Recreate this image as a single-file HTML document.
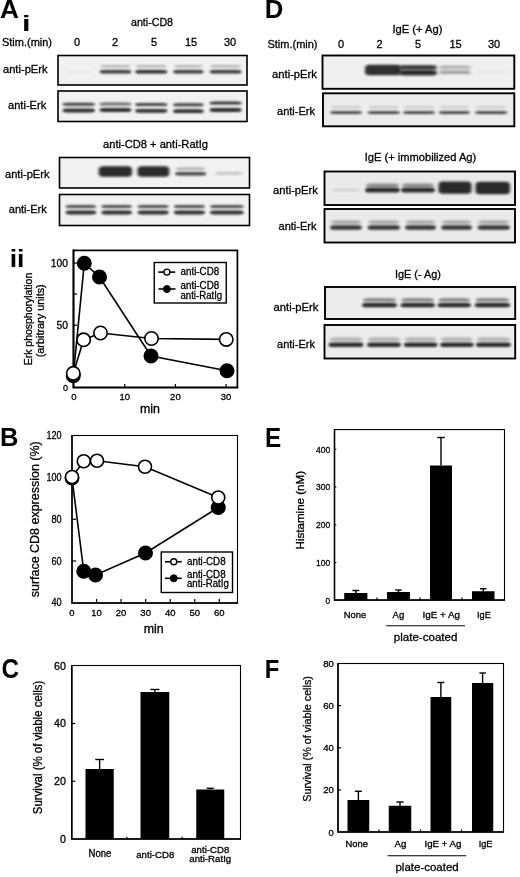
<!DOCTYPE html>
<html><head><meta charset="utf-8"><title>Figure</title>
<style>html,body{margin:0;padding:0;background:#fff;}body{width:520px;height:877px;overflow:hidden;}svg{display:block;will-change:transform;font-family:"Liberation Sans",sans-serif;fill:#000;}</style>
</head><body>
<svg width="520" height="877" viewBox="0 0 520 877">
<defs>
<filter id="b1" x="-10%" y="-100%" width="120%" height="300%"><feGaussianBlur stdDeviation="1.1 0.9"/></filter>
<filter id="b2" x="-10%" y="-100%" width="120%" height="300%"><feGaussianBlur stdDeviation="1.4 1.3"/></filter>
<filter id="b0" x="-10%" y="-100%" width="120%" height="300%"><feGaussianBlur stdDeviation="0.8 0.6"/></filter>
</defs>
<rect x="0" y="0" width="520" height="877" fill="#fff"/>
<text transform="matrix(1.3106 0 0 1.2794 -0.086 18.256)" x="0" y="0" font-size="20" font-weight="bold">A</text>
<text transform="matrix(1.5357 0 0 1.1370 21.950 30.600)" x="0" y="0" font-size="20" font-weight="bold">i</text>
<text transform="matrix(1.3293 0 0 1.2192 9.739 266.800)" x="0" y="0" font-size="20" font-weight="bold">ii</text>
<text transform="matrix(1.2787 0 0 1.2754 -0.090 446.300)" x="0" y="0" font-size="20" font-weight="bold">B</text>
<text transform="matrix(1.2154 0 0 1.3521 1.528 678.230)" x="0" y="0" font-size="20" font-weight="bold">C</text>
<text transform="matrix(1.2869 0 0 1.2826 264.698 18.200)" x="0" y="0" font-size="20" font-weight="bold">D</text>
<text transform="matrix(1.2143 0 0 1.3406 265.100 447.000)" x="0" y="0" font-size="20" font-weight="bold">E</text>
<text transform="matrix(1.1900 0 0 1.3116 264.634 677.600)" x="0" y="0" font-size="20" font-weight="bold">F</text>
<text x="152" y="26" font-size="11" text-anchor="middle" textLength="42" lengthAdjust="spacingAndGlyphs" stroke="#000" stroke-width="0.3">anti-CD8</text>
<text x="2" y="46" font-size="11" textLength="50" lengthAdjust="spacingAndGlyphs" stroke="#000" stroke-width="0.3">Stim.(min)</text>
<text x="77" y="46" font-size="11" text-anchor="middle" stroke="#000" stroke-width="0.3">0</text>
<text x="115" y="46" font-size="11" text-anchor="middle" stroke="#000" stroke-width="0.3">2</text>
<text x="154" y="46" font-size="11" text-anchor="middle" stroke="#000" stroke-width="0.3">5</text>
<text x="191" y="46" font-size="11" text-anchor="middle" stroke="#000" stroke-width="0.3">15</text>
<text x="230" y="46" font-size="11" text-anchor="middle" stroke="#000" stroke-width="0.3">30</text>
<text x="3" y="73" font-size="11" textLength="44.5" lengthAdjust="spacingAndGlyphs" stroke="#000" stroke-width="0.3">anti-pErk</text>
<text x="8" y="108.6" font-size="11" textLength="38.25" lengthAdjust="spacingAndGlyphs" stroke="#000" stroke-width="0.3">anti-Erk</text>
<text x="155.5" y="147.5" font-size="11" text-anchor="middle" textLength="105" lengthAdjust="spacingAndGlyphs" stroke="#000" stroke-width="0.3">anti-CD8 + anti-RatIg</text>
<text x="5" y="178" font-size="11" textLength="44.5" lengthAdjust="spacingAndGlyphs" stroke="#000" stroke-width="0.3">anti-pErk</text>
<text x="8.75" y="213" font-size="11" textLength="38" lengthAdjust="spacingAndGlyphs" stroke="#000" stroke-width="0.3">anti-Erk</text>
<clipPath id="c1"><rect x="58" y="55.5" width="189" height="29.5"/></clipPath>
<rect x="58" y="55.5" width="189" height="29.5" fill="#f1f1f1"/>
<g clip-path="url(#c1)">
<rect x="66" y="70.5" width="26" height="3" rx="5" ry="1.5" fill="#151515" opacity="0.03" filter="url(#b2)"/>
<rect x="99.5" y="69.9" width="32.0" height="3.6" rx="5" ry="1.8" fill="#151515" opacity="0.85" filter="url(#b1)"/>
<rect x="100.5" y="65.0" width="30.0" height="2.6" rx="5" ry="1.3" fill="#151515" opacity="0.28" filter="url(#b1)"/>
<rect x="135" y="69.9" width="32.5" height="3.6" rx="5" ry="1.8" fill="#151515" opacity="0.9" filter="url(#b1)"/>
<rect x="136" y="65.0" width="30.5" height="2.6" rx="5" ry="1.3" fill="#151515" opacity="0.28" filter="url(#b1)"/>
<rect x="173" y="69.9" width="30.75" height="3.6" rx="5" ry="1.8" fill="#151515" opacity="0.85" filter="url(#b1)"/>
<rect x="174" y="65.0" width="28.75" height="2.6" rx="5" ry="1.3" fill="#151515" opacity="0.28" filter="url(#b1)"/>
<rect x="209.5" y="69.9" width="32.25" height="3.6" rx="5" ry="1.8" fill="#151515" opacity="0.85" filter="url(#b1)"/>
<rect x="210.5" y="65.0" width="30.25" height="2.6" rx="5" ry="1.3" fill="#151515" opacity="0.28" filter="url(#b1)"/>
</g>
<rect x="58" y="55.5" width="189" height="29.5" fill="none" stroke="#000" stroke-width="1.6"/>
<clipPath id="c2"><rect x="58" y="91" width="189" height="30.5"/></clipPath>
<rect x="58" y="91" width="189" height="30.5" fill="#f1f1f1"/>
<g clip-path="url(#c2)">
<rect x="62.5" y="102.8" width="32.5" height="3.0" rx="5" ry="1.5" fill="#151515" opacity="0.8" filter="url(#b1)"/>
<rect x="62.5" y="108.6" width="32.5" height="3.8" rx="5" ry="1.9" fill="#151515" opacity="0.9" filter="url(#b1)"/>
<rect x="99.5" y="102.5" width="32.0" height="3.0" rx="5" ry="1.5" fill="#151515" opacity="0.6" filter="url(#b1)"/>
<rect x="99.5" y="108.1" width="32.0" height="3.8" rx="5" ry="1.9" fill="#151515" opacity="0.9" filter="url(#b1)"/>
<rect x="135" y="103.0" width="32.5" height="3.0" rx="5" ry="1.5" fill="#151515" opacity="0.8" filter="url(#b1)"/>
<rect x="135" y="108.89999999999999" width="32.5" height="3.8" rx="5" ry="1.9" fill="#151515" opacity="0.9" filter="url(#b1)"/>
<rect x="173" y="103.3" width="30.75" height="3.0" rx="5" ry="1.5" fill="#151515" opacity="0.8" filter="url(#b1)"/>
<rect x="173" y="109.3" width="30.75" height="3.8" rx="5" ry="1.9" fill="#151515" opacity="0.9" filter="url(#b1)"/>
<rect x="209.5" y="101.5" width="32.25" height="3.0" rx="5" ry="1.5" fill="#151515" opacity="0.85" filter="url(#b1)"/>
<rect x="209.5" y="108.1" width="32.25" height="3.8" rx="5" ry="1.9" fill="#151515" opacity="0.9" filter="url(#b1)"/>
</g>
<rect x="58" y="91" width="189" height="30.5" fill="none" stroke="#000" stroke-width="1.6"/>
<clipPath id="c3"><rect x="59.5" y="157.5" width="190.0" height="30.5"/></clipPath>
<rect x="59.5" y="157.5" width="190.0" height="30.5" fill="#f1f1f1"/>
<g clip-path="url(#c3)">
<rect x="98.75" y="166.25" width="33.25" height="10.5" rx="4" ry="3.5" fill="#151515" opacity="0.9" filter="url(#b2)"/>
<rect x="137.5" y="166.25" width="31.75" height="10.5" rx="4" ry="3.5" fill="#151515" opacity="0.9" filter="url(#b2)"/>
<rect x="175" y="172.0" width="31.25" height="3.4" rx="5" ry="1.7" fill="#151515" opacity="0.8" filter="url(#b1)"/>
<rect x="176" y="167.39999999999998" width="29.25" height="2.6" rx="5" ry="1.3" fill="#151515" opacity="0.3" filter="url(#b1)"/>
<rect x="215" y="172.20000000000002" width="28" height="2.2" rx="5" ry="1.1" fill="#151515" opacity="0.25" filter="url(#b1)"/>
</g>
<rect x="59.5" y="157.5" width="190.0" height="30.5" fill="none" stroke="#000" stroke-width="1.6"/>
<clipPath id="c4"><rect x="59.5" y="194.5" width="190.0" height="31.0"/></clipPath>
<rect x="59.5" y="194.5" width="190.0" height="31.0" fill="#f1f1f1"/>
<g clip-path="url(#c4)">
<rect x="65.5" y="205.1" width="30.75" height="3.0" rx="5" ry="1.5" fill="#151515" opacity="0.75" filter="url(#b1)"/>
<rect x="65.5" y="210.6" width="30.75" height="3.8" rx="5" ry="1.9" fill="#151515" opacity="0.9" filter="url(#b1)"/>
<rect x="101.25" y="205.1" width="30.75" height="3.0" rx="5" ry="1.5" fill="#151515" opacity="0.75" filter="url(#b1)"/>
<rect x="101.25" y="210.6" width="30.75" height="3.8" rx="5" ry="1.9" fill="#151515" opacity="0.9" filter="url(#b1)"/>
<rect x="137.5" y="205.1" width="31.25" height="3.0" rx="5" ry="1.5" fill="#151515" opacity="0.75" filter="url(#b1)"/>
<rect x="137.5" y="210.6" width="31.25" height="3.8" rx="5" ry="1.9" fill="#151515" opacity="0.9" filter="url(#b1)"/>
<rect x="173.75" y="205.1" width="31.25" height="3.0" rx="5" ry="1.5" fill="#151515" opacity="0.75" filter="url(#b1)"/>
<rect x="173.75" y="210.6" width="31.25" height="3.8" rx="5" ry="1.9" fill="#151515" opacity="0.9" filter="url(#b1)"/>
<rect x="210" y="205.1" width="33.75" height="3.0" rx="5" ry="1.5" fill="#151515" opacity="0.75" filter="url(#b1)"/>
<rect x="210" y="210.6" width="33.75" height="3.8" rx="5" ry="1.9" fill="#151515" opacity="0.9" filter="url(#b1)"/>
</g>
<rect x="59.5" y="194.5" width="190.0" height="31.0" fill="none" stroke="#000" stroke-width="1.6"/>
<text x="417.5" y="32.5" font-size="11" text-anchor="middle" textLength="50" lengthAdjust="spacingAndGlyphs" stroke="#000" stroke-width="0.3">IgE (+ Ag)</text>
<text x="267.5" y="48" font-size="11" textLength="50" lengthAdjust="spacingAndGlyphs" stroke="#000" stroke-width="0.3">Stim.(min)</text>
<text x="341" y="48" font-size="11" text-anchor="middle" stroke="#000" stroke-width="0.3">0</text>
<text x="379.5" y="48" font-size="11" text-anchor="middle" stroke="#000" stroke-width="0.3">2</text>
<text x="418" y="48" font-size="11" text-anchor="middle" stroke="#000" stroke-width="0.3">5</text>
<text x="455.5" y="48" font-size="11" text-anchor="middle" stroke="#000" stroke-width="0.3">15</text>
<text x="494" y="48" font-size="11" text-anchor="middle" stroke="#000" stroke-width="0.3">30</text>
<text x="272" y="78" font-size="11" textLength="45" lengthAdjust="spacingAndGlyphs" stroke="#000" stroke-width="0.3">anti-pErk</text>
<text x="277" y="114.5" font-size="11" textLength="38" lengthAdjust="spacingAndGlyphs" stroke="#000" stroke-width="0.3">anti-Erk</text>
<text x="420.5" y="161" font-size="11" text-anchor="middle" textLength="111.5" lengthAdjust="spacingAndGlyphs" stroke="#000" stroke-width="0.3">IgE (+ immobilized Ag)</text>
<text x="273" y="193.5" font-size="11" textLength="45" lengthAdjust="spacingAndGlyphs" stroke="#000" stroke-width="0.3">anti-pErk</text>
<text x="278.5" y="230" font-size="11" textLength="38" lengthAdjust="spacingAndGlyphs" stroke="#000" stroke-width="0.3">anti-Erk</text>
<text x="418" y="277.5" font-size="11" text-anchor="middle" textLength="46" lengthAdjust="spacingAndGlyphs" stroke="#000" stroke-width="0.3">IgE (- Ag)</text>
<text x="273.5" y="310.5" font-size="11" textLength="45" lengthAdjust="spacingAndGlyphs" stroke="#000" stroke-width="0.3">anti-pErk</text>
<text x="277" y="347.5" font-size="11" textLength="38" lengthAdjust="spacingAndGlyphs" stroke="#000" stroke-width="0.3">anti-Erk</text>
<clipPath id="c5"><rect x="322.5" y="55.5" width="191.79999999999995" height="33.3"/></clipPath>
<rect x="322.5" y="55.5" width="191.79999999999995" height="33.3" fill="#efefef"/>
<g clip-path="url(#c5)">
<rect x="365" y="64.75" width="36" height="10.5" rx="4" ry="3.5" fill="#151515" opacity="0.88" filter="url(#b2)"/>
<rect x="399" y="64.9" width="38" height="5" rx="5" ry="2.5" fill="#151515" opacity="0.8" filter="url(#b2)"/>
<rect x="399" y="70.1" width="38" height="5.4" rx="5" ry="2.7" fill="#151515" opacity="0.9" filter="url(#b2)"/>
<rect x="439" y="65.4" width="32" height="3.2" rx="5" ry="1.6" fill="#151515" opacity="0.2" filter="url(#b2)"/>
<rect x="439" y="65.8" width="31" height="8" rx="4" ry="3.5" fill="#151515" opacity="0.1" filter="url(#b2)"/>
<rect x="439" y="70.9" width="32" height="3.2" rx="5" ry="1.6" fill="#151515" opacity="0.3" filter="url(#b2)"/>
<rect x="476" y="70.75" width="31" height="2.5" rx="5" ry="1.25" fill="#151515" opacity="0.03" filter="url(#b2)"/>
</g>
<rect x="322.5" y="55.5" width="191.79999999999995" height="33.3" fill="none" stroke="#000" stroke-width="1.9"/>
<clipPath id="c6"><rect x="323" y="93.3" width="191.29999999999995" height="33.0"/></clipPath>
<rect x="323" y="93.3" width="191.29999999999995" height="33.0" fill="#ececec"/>
<g clip-path="url(#c6)">
<rect x="330" y="111.14999999999999" width="32" height="2.9" rx="5" ry="1.45" fill="#151515" opacity="0.8" filter="url(#b1)"/>
<rect x="331" y="106.0" width="30" height="2.6" rx="5" ry="1.3" fill="#151515" opacity="0.14" filter="url(#b1)"/>
<rect x="367.5" y="111.14999999999999" width="32.5" height="2.9" rx="5" ry="1.45" fill="#151515" opacity="0.8" filter="url(#b1)"/>
<rect x="368.5" y="106.0" width="30.5" height="2.6" rx="5" ry="1.3" fill="#151515" opacity="0.14" filter="url(#b1)"/>
<rect x="403" y="111.14999999999999" width="32" height="2.9" rx="5" ry="1.45" fill="#151515" opacity="0.8" filter="url(#b1)"/>
<rect x="404" y="106.0" width="30" height="2.6" rx="5" ry="1.3" fill="#151515" opacity="0.14" filter="url(#b1)"/>
<rect x="438.75" y="111.14999999999999" width="31.25" height="2.9" rx="5" ry="1.45" fill="#151515" opacity="0.8" filter="url(#b1)"/>
<rect x="439.75" y="106.0" width="29.25" height="2.6" rx="5" ry="1.3" fill="#151515" opacity="0.14" filter="url(#b1)"/>
<rect x="475" y="111.14999999999999" width="32.5" height="2.9" rx="5" ry="1.45" fill="#151515" opacity="0.8" filter="url(#b1)"/>
<rect x="476" y="106.0" width="30.5" height="2.6" rx="5" ry="1.3" fill="#151515" opacity="0.14" filter="url(#b1)"/>
</g>
<rect x="323" y="93.3" width="191.29999999999995" height="33.0" fill="none" stroke="#000" stroke-width="1.9"/>
<clipPath id="c7"><rect x="324.5" y="171.5" width="190.5" height="33.5"/></clipPath>
<rect x="324.5" y="171.5" width="190.5" height="33.5" fill="#eaeaea"/>
<g clip-path="url(#c7)">
<rect x="332" y="188.75" width="28" height="2.5" rx="5" ry="1.25" fill="#151515" opacity="0.12" filter="url(#b2)"/>
<rect x="365" y="187.4" width="35" height="5.2" rx="5" ry="2.6" fill="#151515" opacity="0.9" filter="url(#b1)"/>
<rect x="366" y="183.5" width="33" height="3.6" rx="5" ry="1.8" fill="#151515" opacity="0.45" filter="url(#b2)"/>
<rect x="401" y="187.4" width="34" height="5.2" rx="5" ry="2.6" fill="#151515" opacity="0.9" filter="url(#b1)"/>
<rect x="402" y="183.5" width="32" height="3.6" rx="5" ry="1.8" fill="#151515" opacity="0.45" filter="url(#b2)"/>
<rect x="438.5" y="181.54999999999998" width="33.0" height="12.3" rx="4" ry="3.5" fill="#151515" opacity="0.9" filter="url(#b2)"/>
<rect x="475.5" y="181.85" width="34.5" height="12.3" rx="4" ry="3.5" fill="#151515" opacity="0.9" filter="url(#b2)"/>
</g>
<rect x="324.5" y="171.5" width="190.5" height="33.5" fill="none" stroke="#000" stroke-width="1.9"/>
<clipPath id="c8"><rect x="324.5" y="209" width="190.5" height="33.5"/></clipPath>
<rect x="324.5" y="209" width="190.5" height="33.5" fill="#eaeaea"/>
<g clip-path="url(#c8)">
<rect x="330" y="225.2" width="32" height="4.6" rx="5" ry="2.3" fill="#151515" opacity="0.85" filter="url(#b1)"/>
<rect x="331" y="220.6" width="30" height="3.2" rx="5" ry="1.6" fill="#151515" opacity="0.32" filter="url(#b2)"/>
<rect x="367.5" y="225.2" width="32.5" height="4.6" rx="5" ry="2.3" fill="#151515" opacity="0.85" filter="url(#b1)"/>
<rect x="368.5" y="220.6" width="30.5" height="3.2" rx="5" ry="1.6" fill="#151515" opacity="0.32" filter="url(#b2)"/>
<rect x="405" y="225.2" width="31" height="4.6" rx="5" ry="2.3" fill="#151515" opacity="0.85" filter="url(#b1)"/>
<rect x="406" y="220.6" width="29" height="3.2" rx="5" ry="1.6" fill="#151515" opacity="0.32" filter="url(#b2)"/>
<rect x="441" y="225.2" width="31" height="4.6" rx="5" ry="2.3" fill="#151515" opacity="0.85" filter="url(#b1)"/>
<rect x="442" y="220.6" width="29" height="3.2" rx="5" ry="1.6" fill="#151515" opacity="0.32" filter="url(#b2)"/>
<rect x="477.5" y="225.2" width="32.5" height="4.6" rx="5" ry="2.3" fill="#151515" opacity="0.85" filter="url(#b1)"/>
<rect x="478.5" y="220.6" width="30.5" height="3.2" rx="5" ry="1.6" fill="#151515" opacity="0.32" filter="url(#b2)"/>
</g>
<rect x="324.5" y="209" width="190.5" height="33.5" fill="none" stroke="#000" stroke-width="1.9"/>
<clipPath id="c9"><rect x="325" y="287" width="190.20000000000005" height="32"/></clipPath>
<rect x="325" y="287" width="190.20000000000005" height="32" fill="#ececec"/>
<g clip-path="url(#c9)">
<rect x="362" y="303.09999999999997" width="35" height="4.2" rx="5" ry="2.1" fill="#151515" opacity="0.9" filter="url(#b1)"/>
<rect x="363" y="298.3" width="33" height="3.0" rx="5" ry="1.5" fill="#151515" opacity="0.45" filter="url(#b1)"/>
<rect x="363" y="299.0" width="33" height="6" rx="5" ry="3.0" fill="#151515" opacity="0.1" filter="url(#b2)"/>
<rect x="400.5" y="303.09999999999997" width="34.5" height="4.2" rx="5" ry="2.1" fill="#151515" opacity="0.9" filter="url(#b1)"/>
<rect x="401.5" y="298.3" width="32.5" height="3.0" rx="5" ry="1.5" fill="#151515" opacity="0.45" filter="url(#b1)"/>
<rect x="401.5" y="299.0" width="32.5" height="6" rx="5" ry="3.0" fill="#151515" opacity="0.1" filter="url(#b2)"/>
<rect x="437.5" y="303.09999999999997" width="33.5" height="4.2" rx="5" ry="2.1" fill="#151515" opacity="0.9" filter="url(#b1)"/>
<rect x="438.5" y="298.3" width="31.5" height="3.0" rx="5" ry="1.5" fill="#151515" opacity="0.45" filter="url(#b1)"/>
<rect x="438.5" y="299.0" width="31.5" height="6" rx="5" ry="3.0" fill="#151515" opacity="0.1" filter="url(#b2)"/>
<rect x="474.6" y="303.09999999999997" width="35.599999999999966" height="4.2" rx="5" ry="2.1" fill="#151515" opacity="0.9" filter="url(#b1)"/>
<rect x="475.6" y="298.3" width="33.599999999999966" height="3.0" rx="5" ry="1.5" fill="#151515" opacity="0.45" filter="url(#b1)"/>
<rect x="475.6" y="299.0" width="33.599999999999966" height="6" rx="5" ry="3.0" fill="#151515" opacity="0.1" filter="url(#b2)"/>
</g>
<rect x="325" y="287" width="190.20000000000005" height="32" fill="none" stroke="#000" stroke-width="1.9"/>
<clipPath id="c10"><rect x="324.5" y="325" width="190.70000000000005" height="33.5"/></clipPath>
<rect x="324.5" y="325" width="190.70000000000005" height="33.5" fill="#ececec"/>
<g clip-path="url(#c10)">
<rect x="328.5" y="342.4" width="35.0" height="4.6" rx="5" ry="2.3" fill="#151515" opacity="0.9" filter="url(#b1)"/>
<rect x="329.5" y="337.5" width="33.0" height="3.6" rx="5" ry="1.8" fill="#151515" opacity="0.28" filter="url(#b2)"/>
<rect x="367" y="342.4" width="34" height="4.6" rx="5" ry="2.3" fill="#151515" opacity="0.9" filter="url(#b1)"/>
<rect x="368" y="337.5" width="32" height="3.6" rx="5" ry="1.8" fill="#151515" opacity="0.28" filter="url(#b2)"/>
<rect x="403.75" y="342.4" width="33.75" height="4.6" rx="5" ry="2.3" fill="#151515" opacity="0.9" filter="url(#b1)"/>
<rect x="404.75" y="337.5" width="31.75" height="3.6" rx="5" ry="1.8" fill="#151515" opacity="0.28" filter="url(#b2)"/>
<rect x="440" y="342.4" width="33.75" height="4.6" rx="5" ry="2.3" fill="#151515" opacity="0.9" filter="url(#b1)"/>
<rect x="441" y="337.5" width="31.75" height="3.6" rx="5" ry="1.8" fill="#151515" opacity="0.28" filter="url(#b2)"/>
<rect x="475.8" y="342.4" width="35.19999999999999" height="4.6" rx="5" ry="2.3" fill="#151515" opacity="0.9" filter="url(#b1)"/>
<rect x="476.8" y="337.5" width="33.19999999999999" height="3.6" rx="5" ry="1.8" fill="#151515" opacity="0.28" filter="url(#b2)"/>
</g>
<rect x="324.5" y="325" width="190.70000000000005" height="33.5" fill="none" stroke="#000" stroke-width="1.9"/>
<rect x="73.5" y="250.4" width="163.9" height="137.1" fill="#fff" stroke="#000" stroke-width="1.7"/>
<polyline fill="none" stroke="#000" stroke-width="1.7" stroke-linejoin="miter" points="73.5,249.55 73.5,387.5 238.25,387.5"/>
<line x1="73.5" y1="325.25" x2="77.0" y2="325.25" stroke="#000" stroke-width="1.2"/>
<line x1="73.5" y1="294.125" x2="77.0" y2="294.125" stroke="#000" stroke-width="1.2"/>
<line x1="73.5" y1="263.0" x2="77.0" y2="263.0" stroke="#000" stroke-width="1.2"/>
<line x1="124.7" y1="387.5" x2="124.7" y2="384.0" stroke="#000" stroke-width="1.2"/>
<line x1="175.4" y1="387.5" x2="175.4" y2="384.0" stroke="#000" stroke-width="1.2"/>
<line x1="226.10000000000002" y1="387.5" x2="226.10000000000002" y2="384.0" stroke="#000" stroke-width="1.2"/>
<text x="67.9" y="391.1" font-size="9" text-anchor="end" stroke="#000" stroke-width="0.3">0</text>
<text x="67.9" y="328.85" font-size="10.3" text-anchor="end" stroke="#000" stroke-width="0.3">50</text>
<text x="67.9" y="266.6" font-size="10.3" text-anchor="end" stroke="#000" stroke-width="0.3">100</text>
<text x="74.0" y="400" font-size="9.5" text-anchor="middle" stroke="#000" stroke-width="0.3">0</text>
<text x="124.7" y="400" font-size="9.5" text-anchor="middle" stroke="#000" stroke-width="0.3">10</text>
<text x="175.4" y="400" font-size="9.5" text-anchor="middle" stroke="#000" stroke-width="0.3">20</text>
<text x="226.10000000000002" y="400" font-size="9.5" text-anchor="middle" stroke="#000" stroke-width="0.3">30</text>
<text x="150" y="413" font-size="12.5" text-anchor="middle" textLength="20" lengthAdjust="spacingAndGlyphs" stroke="#000" stroke-width="0.3">min</text>
<text x="0" y="0" transform="translate(32.4 319) rotate(-90)" font-size="10.4" text-anchor="middle" textLength="92.5" lengthAdjust="spacingAndGlyphs" stroke="#000" stroke-width="0.3">Erk phosphorylation</text>
<text x="0" y="0" transform="translate(44.3 320.8) rotate(-90)" font-size="10.4" text-anchor="middle" textLength="73" lengthAdjust="spacingAndGlyphs" stroke="#000" stroke-width="0.3">(arbitrary units)</text>
<polyline fill="none" stroke="#000" stroke-width="1.6" points="73.3,375.7 84.3,263.2 99.5,277 151,356 227,370.75"/>
<polyline fill="none" stroke="#000" stroke-width="1.6" points="73.3,373.3 83.6,339.8 100.5,333 151.5,338.5 226.25,339.4"/>
<circle cx="73.3" cy="375.7" r="6.8" fill="#000" stroke="#000" stroke-width="1.4"/>
<circle cx="84.3" cy="263.2" r="6.8" fill="#000" stroke="#000" stroke-width="1.4"/>
<circle cx="99.5" cy="277" r="6.8" fill="#000" stroke="#000" stroke-width="1.4"/>
<circle cx="151" cy="356" r="6.8" fill="#000" stroke="#000" stroke-width="1.4"/>
<circle cx="227" cy="370.75" r="6.8" fill="#000" stroke="#000" stroke-width="1.4"/>
<circle cx="73.3" cy="373.3" r="6.7" fill="#fff" stroke="#000" stroke-width="1.6"/>
<circle cx="83.6" cy="339.8" r="6.7" fill="#fff" stroke="#000" stroke-width="1.6"/>
<circle cx="100.5" cy="333" r="6.7" fill="#fff" stroke="#000" stroke-width="1.6"/>
<circle cx="151.5" cy="338.5" r="6.7" fill="#fff" stroke="#000" stroke-width="1.6"/>
<circle cx="226.25" cy="339.4" r="6.7" fill="#fff" stroke="#000" stroke-width="1.6"/>
<rect x="154.25" y="262.5" width="72" height="40.5" fill="#fff" stroke="#000" stroke-width="1.4"/>
<line x1="158.3" y1="272.1" x2="175.2" y2="272.1" stroke="#000" stroke-width="1.6"/>
<circle cx="166.9" cy="272.1" r="3.0" fill="#fff" stroke="#000" stroke-width="1.4"/>
<line x1="158.5" y1="289" x2="175.5" y2="289" stroke="#000" stroke-width="1.6"/>
<circle cx="166.9" cy="289" r="3.5" fill="#000" stroke="#000" stroke-width="1"/>
<text x="180.5" y="275" font-size="10" textLength="38.7" lengthAdjust="spacingAndGlyphs" stroke="#000" stroke-width="0.3">anti-CD8</text>
<text x="180.5" y="288.8" font-size="10" textLength="38.7" lengthAdjust="spacingAndGlyphs" stroke="#000" stroke-width="0.3">anti-CD8</text>
<text x="180.5" y="298.5" font-size="10" textLength="41.7" lengthAdjust="spacingAndGlyphs" stroke="#000" stroke-width="0.3">anti-RatIg</text>
<rect x="72" y="435.5" width="165.5" height="167.5" fill="#fff" stroke="#000" stroke-width="1.1"/>
<polyline fill="none" stroke="#000" stroke-width="1.5" stroke-linejoin="miter" points="72,434.95 72,603 238.05,603"/>
<line x1="72" y1="561.0" x2="76.2" y2="561.0" stroke="#000" stroke-width="1.2"/>
<line x1="72" y1="519.25" x2="76.2" y2="519.25" stroke="#000" stroke-width="1.2"/>
<line x1="72" y1="477.5" x2="76.2" y2="477.5" stroke="#000" stroke-width="1.2"/>
<line x1="96.55" y1="603" x2="96.55" y2="599" stroke="#000" stroke-width="1.2"/>
<line x1="121.1" y1="603" x2="121.1" y2="599" stroke="#000" stroke-width="1.2"/>
<line x1="145.65" y1="603" x2="145.65" y2="599" stroke="#000" stroke-width="1.2"/>
<line x1="170.2" y1="603" x2="170.2" y2="599" stroke="#000" stroke-width="1.2"/>
<line x1="194.75" y1="603" x2="194.75" y2="599" stroke="#000" stroke-width="1.2"/>
<line x1="219.3" y1="603" x2="219.3" y2="599" stroke="#000" stroke-width="1.2"/>
<text x="61.6" y="606.25" font-size="11" text-anchor="end" textLength="10.2" lengthAdjust="spacingAndGlyphs" stroke="#000" stroke-width="0.3">40</text>
<text x="61.6" y="564.5" font-size="11" text-anchor="end" textLength="10.2" lengthAdjust="spacingAndGlyphs" stroke="#000" stroke-width="0.3">60</text>
<text x="61.6" y="522.75" font-size="11" text-anchor="end" textLength="10.2" lengthAdjust="spacingAndGlyphs" stroke="#000" stroke-width="0.3">80</text>
<text x="61.6" y="481.0" font-size="11" text-anchor="end" textLength="15.2" lengthAdjust="spacingAndGlyphs" stroke="#000" stroke-width="0.3">100</text>
<text x="61.6" y="439.25" font-size="11" text-anchor="end" textLength="15.2" lengthAdjust="spacingAndGlyphs" stroke="#000" stroke-width="0.3">120</text>
<text x="72.0" y="616.3" font-size="9.5" text-anchor="middle" stroke="#000" stroke-width="0.3">0</text>
<text x="96.55" y="616.3" font-size="9.5" text-anchor="middle" stroke="#000" stroke-width="0.3">10</text>
<text x="121.1" y="616.3" font-size="9.5" text-anchor="middle" stroke="#000" stroke-width="0.3">20</text>
<text x="145.65" y="616.3" font-size="9.5" text-anchor="middle" stroke="#000" stroke-width="0.3">30</text>
<text x="170.2" y="616.3" font-size="9.5" text-anchor="middle" stroke="#000" stroke-width="0.3">40</text>
<text x="194.75" y="616.3" font-size="9.5" text-anchor="middle" stroke="#000" stroke-width="0.3">50</text>
<text x="219.3" y="616.3" font-size="9.5" text-anchor="middle" stroke="#000" stroke-width="0.3">60</text>
<text x="153.75" y="632.5" font-size="12.5" text-anchor="middle" textLength="20" lengthAdjust="spacingAndGlyphs" stroke="#000" stroke-width="0.3">min</text>
<text x="0" y="0" transform="translate(38.6 519.3) rotate(-90)" font-size="13" text-anchor="middle" textLength="156" lengthAdjust="spacingAndGlyphs" stroke="#000" stroke-width="0.3">surface CD8 expression (%)</text>
<polyline fill="none" stroke="#000" stroke-width="1.6" points="72,478 83.75,571.25 95.5,575 145.5,553 218.25,507.5"/>
<polyline fill="none" stroke="#000" stroke-width="1.6" points="72,477 83.75,461.25 97,460.75 145,466.75 218.25,497.5"/>
<circle cx="72" cy="478" r="6.8" fill="#000" stroke="#000" stroke-width="1.4"/>
<circle cx="83.75" cy="571.25" r="6.8" fill="#000" stroke="#000" stroke-width="1.4"/>
<circle cx="95.5" cy="575" r="6.8" fill="#000" stroke="#000" stroke-width="1.4"/>
<circle cx="145.5" cy="553" r="6.8" fill="#000" stroke="#000" stroke-width="1.4"/>
<circle cx="218.25" cy="507.5" r="6.8" fill="#000" stroke="#000" stroke-width="1.4"/>
<circle cx="72" cy="477" r="6.5" fill="#fff" stroke="#000" stroke-width="1.6"/>
<circle cx="83.75" cy="461.25" r="6.5" fill="#fff" stroke="#000" stroke-width="1.6"/>
<circle cx="97" cy="460.75" r="6.5" fill="#fff" stroke="#000" stroke-width="1.6"/>
<circle cx="145" cy="466.75" r="6.5" fill="#fff" stroke="#000" stroke-width="1.6"/>
<circle cx="218.25" cy="497.5" r="6.5" fill="#fff" stroke="#000" stroke-width="1.6"/>
<rect x="161.25" y="552" width="71.25" height="40.5" fill="#fff" stroke="#000" stroke-width="1.4"/>
<line x1="165" y1="561.75" x2="181.75" y2="561.75" stroke="#000" stroke-width="1.6"/>
<circle cx="173.75" cy="561.75" r="3.0" fill="#fff" stroke="#000" stroke-width="1.4"/>
<line x1="165" y1="578.3" x2="181.75" y2="578.3" stroke="#000" stroke-width="1.6"/>
<circle cx="173.75" cy="578.3" r="3.5" fill="#000" stroke="#000" stroke-width="1"/>
<text x="187" y="564.5" font-size="10.2" textLength="38.6" lengthAdjust="spacingAndGlyphs" stroke="#000" stroke-width="0.3">anti-CD8</text>
<text x="187" y="578" font-size="10.2" textLength="38.6" lengthAdjust="spacingAndGlyphs" stroke="#000" stroke-width="0.3">anti-CD8</text>
<text x="187" y="587.3" font-size="10.2" textLength="41.8" lengthAdjust="spacingAndGlyphs" stroke="#000" stroke-width="0.3">anti-RatIg</text>
<rect x="71.8" y="665.5" width="168.7" height="173.5" fill="#fff" stroke="#000" stroke-width="1.1"/>
<polyline fill="none" stroke="#000" stroke-width="1.5" stroke-linejoin="miter" points="71.8,664.95 71.8,839.0 241.05,839.0"/>
<line x1="71.8" y1="781.26" x2="75.3" y2="781.26" stroke="#000" stroke-width="1.2"/>
<line x1="71.8" y1="723.52" x2="75.3" y2="723.52" stroke="#000" stroke-width="1.2"/>
<line x1="126.8" y1="839.0" x2="126.8" y2="836.8" stroke="#000" stroke-width="1.2"/>
<line x1="182" y1="839.0" x2="182" y2="836.8" stroke="#000" stroke-width="1.2"/>
<text x="66" y="842.8" font-size="10.7" text-anchor="end" stroke="#000" stroke-width="0.3">0</text>
<text x="66" y="785.06" font-size="10.7" text-anchor="end" stroke="#000" stroke-width="0.3">20</text>
<text x="66" y="727.3199999999999" font-size="10.7" text-anchor="end" stroke="#000" stroke-width="0.3">40</text>
<text x="66" y="669.5799999999999" font-size="10.7" text-anchor="end" stroke="#000" stroke-width="0.3">60</text>
<text x="0" y="0" transform="translate(41.5 747.4) rotate(-90)" font-size="12" text-anchor="middle" textLength="133.6" lengthAdjust="spacingAndGlyphs" stroke="#000" stroke-width="0.3">Survival (% of viable cells)</text>
<rect x="85.5" y="769" width="28.25" height="70.0" fill="#000"/>
<line x1="99.625" y1="769" x2="99.625" y2="759.5" stroke="#000" stroke-width="1.4"/>
<line x1="95.25" y1="759.5" x2="104.0" y2="759.5" stroke="#000" stroke-width="1.4"/>
<rect x="140.5" y="692" width="28.75" height="147.0" fill="#000"/>
<line x1="154.875" y1="692" x2="154.875" y2="689.5" stroke="#000" stroke-width="1.4"/>
<line x1="150.375" y1="689.5" x2="159.375" y2="689.5" stroke="#000" stroke-width="1.4"/>
<rect x="196.25" y="789.5" width="28.0" height="49.5" fill="#000"/>
<line x1="210.25" y1="789.5" x2="210.25" y2="788.3" stroke="#000" stroke-width="1.4"/>
<line x1="206.75" y1="788.3" x2="213.75" y2="788.3" stroke="#000" stroke-width="1.4"/>
<text x="99.9" y="856.8" font-size="10" text-anchor="middle" textLength="22.8" lengthAdjust="spacingAndGlyphs" stroke="#000" stroke-width="0.3">None</text>
<text x="155.25" y="857.75" font-size="9.4" text-anchor="middle" textLength="38" lengthAdjust="spacingAndGlyphs" stroke="#000" stroke-width="0.3">anti-CD8</text>
<text x="210.25" y="853.25" font-size="9.4" text-anchor="middle" textLength="38" lengthAdjust="spacingAndGlyphs" stroke="#000" stroke-width="0.3">anti-CD8</text>
<text x="210.25" y="862.3" font-size="9.4" text-anchor="middle" textLength="42" lengthAdjust="spacingAndGlyphs" stroke="#000" stroke-width="0.3">anti-RatIg</text>
<rect x="334.5" y="429.6" width="170.0" height="170.5" fill="#fff" stroke="#000" stroke-width="1.1"/>
<polyline fill="none" stroke="#000" stroke-width="1.5" stroke-linejoin="miter" points="334.5,429.05 334.5,600.1 505.05,600.1"/>
<line x1="334.5" y1="562.55" x2="336.3" y2="562.55" stroke="#000" stroke-width="1.2"/>
<line x1="334.5" y1="524.8" x2="336.3" y2="524.8" stroke="#000" stroke-width="1.2"/>
<line x1="334.5" y1="487.04999999999995" x2="336.3" y2="487.04999999999995" stroke="#000" stroke-width="1.2"/>
<line x1="334.5" y1="449.29999999999995" x2="336.3" y2="449.29999999999995" stroke="#000" stroke-width="1.2"/>
<line x1="377" y1="600.1" x2="377" y2="597.6" stroke="#000" stroke-width="1.2"/>
<line x1="420" y1="600.1" x2="420" y2="597.6" stroke="#000" stroke-width="1.2"/>
<line x1="462" y1="600.1" x2="462" y2="597.6" stroke="#000" stroke-width="1.2"/>
<text x="330.2" y="603.5" font-size="9.2" text-anchor="end" textLength="4.6" lengthAdjust="spacingAndGlyphs" stroke="#000" stroke-width="0.3">0</text>
<text x="330.2" y="565.75" font-size="9.2" text-anchor="end" textLength="14.2" lengthAdjust="spacingAndGlyphs" stroke="#000" stroke-width="0.3">100</text>
<text x="330.2" y="528.0" font-size="9.2" text-anchor="end" textLength="14.2" lengthAdjust="spacingAndGlyphs" stroke="#000" stroke-width="0.3">200</text>
<text x="330.2" y="490.24999999999994" font-size="9.2" text-anchor="end" textLength="14.2" lengthAdjust="spacingAndGlyphs" stroke="#000" stroke-width="0.3">300</text>
<text x="330.2" y="452.49999999999994" font-size="9.2" text-anchor="end" textLength="14.2" lengthAdjust="spacingAndGlyphs" stroke="#000" stroke-width="0.3">400</text>
<text x="0" y="0" transform="translate(304.4 510.2) rotate(-90)" font-size="11" text-anchor="middle" textLength="78.5" lengthAdjust="spacingAndGlyphs" stroke="#000" stroke-width="0.3">Histamine (nM)</text>
<rect x="344.2" y="593" width="23.19999999999999" height="7.100000000000023" fill="#000"/>
<line x1="355.79999999999995" y1="593" x2="355.79999999999995" y2="590.5" stroke="#000" stroke-width="1.4"/>
<line x1="352.34999999999997" y1="590.5" x2="359.24999999999994" y2="590.5" stroke="#000" stroke-width="1.4"/>
<rect x="387" y="592" width="23" height="8.100000000000023" fill="#000"/>
<line x1="398.5" y1="592" x2="398.5" y2="590" stroke="#000" stroke-width="1.4"/>
<line x1="395.25" y1="590" x2="401.75" y2="590" stroke="#000" stroke-width="1.4"/>
<rect x="430" y="465.5" width="22" height="134.60000000000002" fill="#000"/>
<line x1="441.0" y1="465.5" x2="441.0" y2="437.5" stroke="#000" stroke-width="1.4"/>
<line x1="437.25" y1="437.5" x2="444.75" y2="437.5" stroke="#000" stroke-width="1.4"/>
<rect x="472" y="591.25" width="22.5" height="8.850000000000023" fill="#000"/>
<line x1="483.25" y1="591.25" x2="483.25" y2="588.75" stroke="#000" stroke-width="1.4"/>
<line x1="480.0" y1="588.75" x2="486.5" y2="588.75" stroke="#000" stroke-width="1.4"/>
<text x="355" y="617.6" font-size="9.6" text-anchor="middle" textLength="22.3" lengthAdjust="spacingAndGlyphs" stroke="#000" stroke-width="0.3">None</text>
<text x="398.4" y="617.5" font-size="9.6" text-anchor="middle" textLength="11.75" lengthAdjust="spacingAndGlyphs" stroke="#000" stroke-width="0.3">Ag</text>
<text x="441.25" y="617.5" font-size="9.6" text-anchor="middle" textLength="37.5" lengthAdjust="spacingAndGlyphs" stroke="#000" stroke-width="0.3">IgE + Ag</text>
<text x="483.9" y="617.5" font-size="9.6" text-anchor="middle" textLength="13.75" lengthAdjust="spacingAndGlyphs" stroke="#000" stroke-width="0.3">IgE</text>
<line x1="386.25" y1="625.75" x2="465" y2="625.75" stroke="#000" stroke-width="1.1"/>
<text x="425.6" y="641.2" font-size="11.5" text-anchor="middle" textLength="63.75" lengthAdjust="spacingAndGlyphs" stroke="#000" stroke-width="0.3">plate-coated</text>
<rect x="338" y="663.5" width="165.5" height="168.5" fill="#fff" stroke="#000" stroke-width="1.1"/>
<polyline fill="none" stroke="#000" stroke-width="1.5" stroke-linejoin="miter" points="338,662.95 338,832.0 504.05,832.0"/>
<line x1="338" y1="789.94" x2="341" y2="789.94" stroke="#000" stroke-width="1.2"/>
<line x1="338" y1="747.78" x2="341" y2="747.78" stroke="#000" stroke-width="1.2"/>
<line x1="338" y1="705.62" x2="341" y2="705.62" stroke="#000" stroke-width="1.2"/>
<line x1="379" y1="832.0" x2="379" y2="829.5" stroke="#000" stroke-width="1.2"/>
<line x1="420.5" y1="832.0" x2="420.5" y2="829.5" stroke="#000" stroke-width="1.2"/>
<line x1="461.5" y1="832.0" x2="461.5" y2="829.5" stroke="#000" stroke-width="1.2"/>
<text x="333.9" y="835.6" font-size="9.6" text-anchor="end" stroke="#000" stroke-width="0.3">0</text>
<text x="333.9" y="793.44" font-size="9.6" text-anchor="end" stroke="#000" stroke-width="0.3">20</text>
<text x="333.9" y="751.28" font-size="9.6" text-anchor="end" stroke="#000" stroke-width="0.3">40</text>
<text x="333.9" y="709.12" font-size="9.6" text-anchor="end" stroke="#000" stroke-width="0.3">60</text>
<text x="333.9" y="666.96" font-size="9.6" text-anchor="end" stroke="#000" stroke-width="0.3">80</text>
<text x="0" y="0" transform="translate(310.5 738.9) rotate(-90)" font-size="11.6" text-anchor="middle" textLength="125.5" lengthAdjust="spacingAndGlyphs" stroke="#000" stroke-width="0.3">Survival (% of viable cells)</text>
<rect x="347.5" y="800" width="21.75" height="32.0" fill="#000"/>
<line x1="358.375" y1="800" x2="358.375" y2="791.25" stroke="#000" stroke-width="1.4"/>
<line x1="354.875" y1="791.25" x2="361.875" y2="791.25" stroke="#000" stroke-width="1.4"/>
<rect x="388.75" y="805.75" width="22.5" height="26.25" fill="#000"/>
<line x1="400.0" y1="805.75" x2="400.0" y2="802" stroke="#000" stroke-width="1.4"/>
<line x1="396.25" y1="802" x2="403.75" y2="802" stroke="#000" stroke-width="1.4"/>
<rect x="430.5" y="697" width="20.75" height="135.0" fill="#000"/>
<line x1="440.875" y1="697" x2="440.875" y2="682.5" stroke="#000" stroke-width="1.4"/>
<line x1="437.375" y1="682.5" x2="444.375" y2="682.5" stroke="#000" stroke-width="1.4"/>
<rect x="472" y="683" width="21.25" height="149.0" fill="#000"/>
<line x1="482.625" y1="683" x2="482.625" y2="673" stroke="#000" stroke-width="1.4"/>
<line x1="479.375" y1="673" x2="485.875" y2="673" stroke="#000" stroke-width="1.4"/>
<text x="356.75" y="847" font-size="9" text-anchor="middle" textLength="22.5" lengthAdjust="spacingAndGlyphs" stroke="#000" stroke-width="0.3">None</text>
<text x="400.4" y="847" font-size="9" text-anchor="middle" textLength="11.75" lengthAdjust="spacingAndGlyphs" stroke="#000" stroke-width="0.3">Ag</text>
<text x="442.9" y="847" font-size="9" text-anchor="middle" textLength="36.75" lengthAdjust="spacingAndGlyphs" stroke="#000" stroke-width="0.3">IgE + Ag</text>
<text x="485.6" y="847" font-size="9" text-anchor="middle" textLength="13.75" lengthAdjust="spacingAndGlyphs" stroke="#000" stroke-width="0.3">IgE</text>
<line x1="387.5" y1="855.75" x2="466.25" y2="855.75" stroke="#000" stroke-width="1.1"/>
<text x="427.1" y="870.75" font-size="11.5" text-anchor="middle" textLength="63.25" lengthAdjust="spacingAndGlyphs" stroke="#000" stroke-width="0.3">plate-coated</text>
</svg></body></html>
